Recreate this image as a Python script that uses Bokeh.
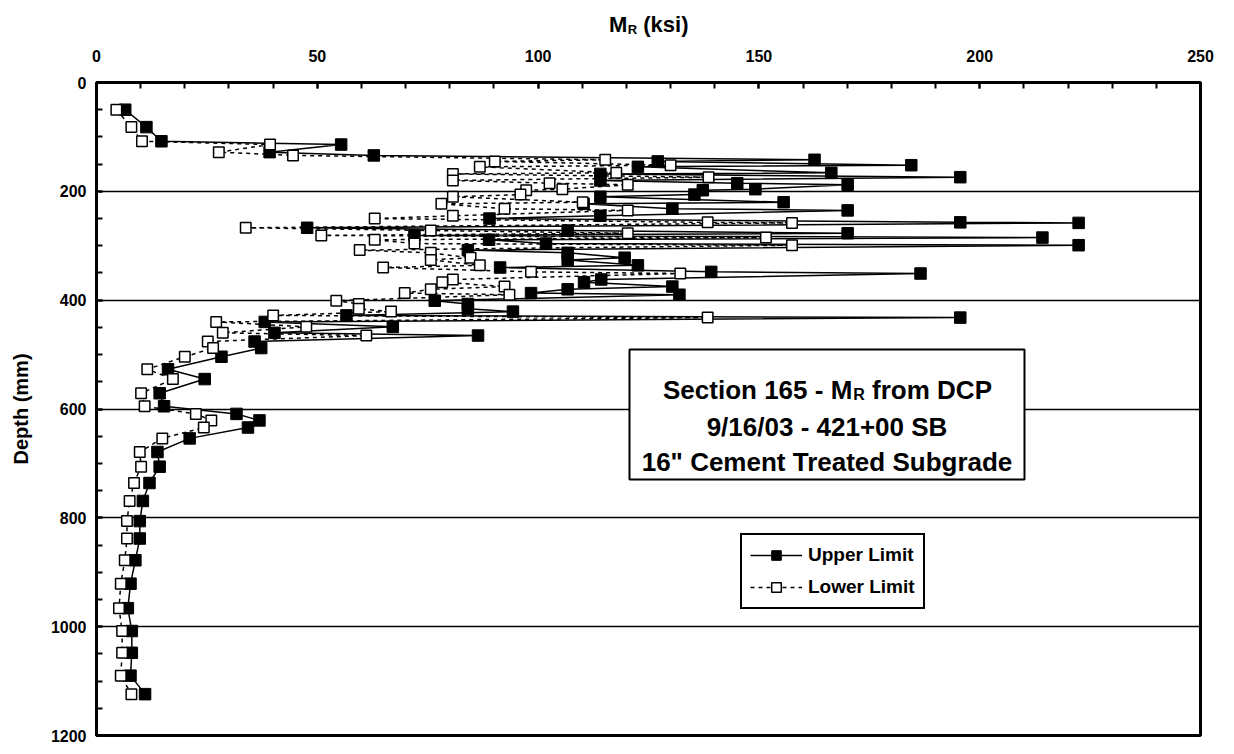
import math
from bokeh.plotting import figure
from bokeh.layouts import column
from bokeh.models import (Range1d, FixedTicker, SingleIntervalTicker, Label,
                          Legend, LegendItem)
from bokeh.embed import file_html
from bokeh.resources import INLINE

# ---------------- data ----------------
depth_mm = [50, 82, 108, 114, 128, 134, 142, 145, 152, 155, 166, 168, 174, 180,
            185, 188, 196, 198, 206, 210, 220, 223, 232, 235, 245, 250, 257, 258,
            267, 272, 277, 281, 285, 289, 296, 299, 308, 313, 322, 326, 336, 340,
            348, 351, 362, 367, 375, 380, 387, 390, 401, 407, 416, 421, 428, 432,
            440, 449, 460, 465, 476, 488, 504, 527, 545, 571, 595, 609, 621, 634,
            654, 679, 706, 736, 769, 806, 838, 878, 921, 966, 1008, 1048, 1090, 1124]

upper_ksi = [6.5, 11.3, 14.7, 55.4, 39.2, 62.8, 162.6, 127.1, 184.5, 122.6, 166.4, 114.1,
             195.6, 114.1, 145.1, 170.1, 149.2, 137.3, 135.4, 114.1, 155.6, 110.3, 130.4,
             170.1, 114.1, 89.0, 195.6, 222.4, 47.7, 106.7, 170.1, 72.0, 214.2, 88.9,
             101.8, 222.4, 84.1, 106.7, 119.6, 106.7, 122.6, 91.4, 139.2, 186.6, 114.3,
             110.4, 130.4, 106.7, 98.4, 132.0, 76.6, 84.1, 84.1, 94.3, 56.6, 195.6,
             38.1, 67.1, 40.3, 86.4, 35.8, 37.3, 28.3, 16.2, 24.5, 14.3, 15.3, 31.7,
             36.9, 34.3, 21.1, 13.8, 14.3, 12.0, 10.5, 9.8, 9.8, 8.8, 7.7, 7.1, 8.0,
             8.0, 7.7, 11.0]

lower_ksi = [4.5, 7.9, 10.3, 39.3, 27.7, 44.5, 115.2, 90.2, 130.0, 86.8, 117.7, 80.7,
             138.6, 80.7, 102.6, 120.3, 105.5, 97.3, 96.0, 80.7, 110.1, 78.1, 92.4,
             120.3, 80.7, 63.0, 138.4, 157.5, 33.8, 75.7, 120.3, 50.9, 151.6, 63.0,
             72.0, 157.5, 59.6, 75.7, 84.7, 75.7, 86.8, 64.9, 98.4, 132.2, 80.7,
             78.3, 92.4, 75.7, 69.8, 93.5, 54.3, 59.4, 59.4, 66.7, 40.0, 138.4,
             27.1, 47.5, 28.6, 61.1, 25.2, 26.4, 20.0, 11.5, 17.3, 10.1, 10.9, 22.5,
             26.0, 24.3, 14.9, 9.8, 10.1, 8.5, 7.5, 6.9, 6.9, 6.4, 5.5, 5.1, 5.8,
             5.8, 5.5, 7.9]

x_tick_labels = [0, 50, 100, 150, 200, 250]
y_tick_labels = [0, 200, 400, 600, 800, 1000, 1200]
grid_depths = [200, 400, 600, 800, 1000]
series_names = ["Upper Limit", "Lower Limit"]
x_title = ("M", "R", "(ksi)")
y_title = "Depth (mm)"
box_title = ("Section 165 - M", "R", "from DCP")
box_lines = ["9/16/03 - 421+00 SB", '16" Cement Treated Subgrade']

# ---------------- layout ----------------
FONT = "Liberation Sans"
PAGE = 8
TITLE_H = 38                              # strip above the chart for the axis title
FL, FT, FW, FH, FR = 96, 44, 1104, 653, 14  # frame placement inside the chart figure
FRAME_TOP = PAGE + TITLE_H + FT           # page y of frame top
FRAME_LEFT = PAGE + FL
PX_PER_KSI = FW / 250.0


def sx(px):  # page x -> frame screen x
    return px - FRAME_LEFT


def sy(py):  # page y -> frame screen y (from frame bottom)
    return (FRAME_TOP + FH) - py


def dx(px):  # page x -> data x
    return (px - FRAME_LEFT) / PX_PER_KSI


def dy(py):  # page y -> data depth
    return (py - FRAME_TOP) / FH * 1200.0


# ---------------- title strip (same horizontal frame as the chart) ----------------
tfig = figure(frame_width=FW, frame_height=TITLE_H,
              x_range=Range1d(0, 250), y_range=Range1d(TITLE_H, 0),
              x_axis_type=None, y_axis_type=None, output_backend="svg",
              toolbar_location=None, min_border_left=FL, min_border_right=FR,
              min_border_top=0, min_border_bottom=0, outline_line_color=None,
              background_fill_color="white", border_fill_color="white")
tfig.xgrid.visible = False
tfig.ygrid.visible = False
tfig.title.visible = False

T = 22
S = 13
SPACE = 278
w_m = 833 * T / 1000.0
w_r = 722 * S / 1000.0
w_sp = SPACE * T / 1000.0
w_k = 2056 * T / 1000.0
title_center_px = 656
tx0 = title_center_px - (w_m + w_r + w_sp + w_k) / 2.0


def add_title_text(text, px, py, size):
    tfig.add_layout(Label(x=dx(px), y=py - PAGE, text=text, text_font=FONT,
                          text_font_style="bold", text_font_size=f"{size}px",
                          text_color="black", text_align="left",
                          text_baseline="alphabetic"))


add_title_text(x_title[0], tx0, 32, T)
add_title_text(x_title[1], tx0 + w_m + 0.5, 36.5, S)
add_title_text(x_title[2], tx0 + w_m + w_r + w_sp + 0.5, 32, T)

# ---------------- main chart ----------------
p = figure(frame_width=FW, frame_height=FH,
           x_range=Range1d(0, 250), y_range=Range1d(1200, 0),
           x_axis_location="above", output_backend="svg", toolbar_location=None,
           min_border_left=FL, min_border_top=FT, min_border_right=FR,
           min_border_bottom=14, background_fill_color="white",
           border_fill_color="white")
p.title.visible = False

p.outline_line_color = "black"
p.outline_line_width = 3

xa = p.xaxis[0]
xa.ticker = SingleIntervalTicker(interval=50, num_minor_ticks=5)
ya = p.yaxis[0]
ya.ticker = SingleIntervalTicker(interval=200, num_minor_ticks=4)
for ax in (xa, ya):
    ax.axis_line_width = 3
    ax.axis_line_color = "black"
    ax.major_tick_in = 6
    ax.major_tick_out = 0
    ax.minor_tick_in = 6
    ax.minor_tick_out = 0
    ax.major_tick_line_width = 2
    ax.minor_tick_line_width = 2
    ax.major_tick_line_color = "black"
    ax.minor_tick_line_color = "black"
    ax.major_label_text_font = FONT
    ax.major_label_text_font_style = "bold"
    ax.major_label_text_font_size = "16px"
    ax.major_label_text_color = "black"
xa.major_label_standoff = 21
ya.major_label_standoff = 10
ya.axis_label = y_title
ya.axis_label_text_font = FONT
ya.axis_label_text_font_style = "bold"
ya.axis_label_text_font_size = "20px"
ya.axis_label_text_color = "black"
ya.axis_label_standoff = 16

p.xgrid.visible = False
p.ygrid.ticker = FixedTicker(ticks=grid_depths)
p.ygrid.grid_line_color = "black"
p.ygrid.grid_line_width = 1.5
p.ygrid.grid_line_alpha = 1.0

# ---------------- series ----------------
ru_line = p.line(upper_ksi, depth_mm, line_color="black", line_width=1.5)
ru_pts = p.scatter(upper_ksi, depth_mm, marker="square", size=11.5,
                   fill_color="black", line_color="black", line_width=1)
rl_line = p.line(lower_ksi, depth_mm, line_color="black", line_width=1.5,
                 line_dash="4 4")
rl_pts = p.scatter(lower_ksi, depth_mm, marker="square", size=10.5,
                   fill_color="white", line_color="black", line_width=1.5)

# ---------------- annotation box ----------------
p.quad(left=[dx(637)], right=[dx(1032)], top=[dy(357)], bottom=[dy(487)],
       fill_color="white", line_color="black", line_width=2)

BIG = 26
SUB = 16


def add_text(text, px, py, size, align="left"):
    p.add_layout(Label(x=sx(px), y=sy(py), x_units="screen", y_units="screen",
                       text=text, text_font=FONT, text_font_style="bold",
                       text_font_size=f"{size}px", text_color="black",
                       text_align=align, text_baseline="alphabetic"))


w_main1 = 7280 * BIG / 1000.0
w_sub1 = 722 * SUB / 1000.0
w_sp1 = SPACE * BIG / 1000.0
w_rest1 = 4611 * BIG / 1000.0
cx = 834.5
x0 = cx - (w_main1 + w_sub1 + w_sp1 + w_rest1) / 2.0
add_text(box_title[0], x0, 397, BIG)
add_text(box_title[1], x0 + w_main1 + 1, 402, SUB)
add_text(box_title[2], x0 + w_main1 + w_sub1 + w_sp1 + 1, 397, BIG)
add_text(box_lines[0], cx, 434, BIG, align="center")
add_text(box_lines[1], cx, 469, BIG, align="center")

# ---------------- legend ----------------
legend = Legend(items=[LegendItem(label=series_names[0], renderers=[ru_line, ru_pts]),
                       LegendItem(label=series_names[1], renderers=[rl_line, rl_pts])],
                location=(int(sx(748)), int(sy(617))), margin=0,
                glyph_width=52, glyph_height=24, label_height=24,
                padding=8, spacing=8, label_standoff=6,
                label_text_font=FONT, label_text_font_style="bold",
                label_text_font_size="19px", label_text_color="black",
                border_line_color="black", border_line_width=2,
                border_line_alpha=1.0,
                background_fill_color="white", background_fill_alpha=1.0)
p.add_layout(legend)

layout = column(tfig, p, spacing=0)
open("out.html", "w").write(file_html(layout, INLINE))
